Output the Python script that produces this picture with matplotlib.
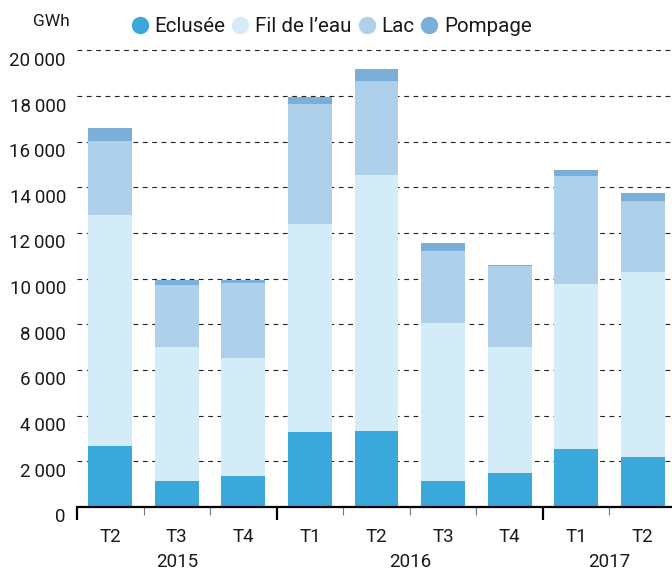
import matplotlib
matplotlib.use("Agg")
import matplotlib.pyplot as plt
from matplotlib.lines import Line2D
from matplotlib.transforms import ScaledTranslation

plt.rcParams['font.family'] = ['Roboto', 'DejaVu Sans']

# Quarterly hydro production, GWh
quarters = ["T2", "T3", "T4", "T1", "T2", "T3", "T4", "T1", "T2"]
years = ["2015", "2016", "2017"]
year_spans = [(0, 2), (3, 6), (7, 8)]

eclusee = [2665, 1160, 1380, 3265, 3310, 1160, 1510, 2520, 2210]
fil_de_leau = [10125, 5840, 5130, 9155, 11220, 6880, 5480, 7230, 8070]
lac = [3230, 2710, 3290, 5220, 4120, 3160, 3550, 4740, 3110]
pompage = [570, 230, 130, 310, 530, 360, 80, 260, 350]

series = [
    ("Eclusée", eclusee, "#3aa8da"),
    ("Fil de l\u2019eau", fil_de_leau, "#d4ebf8"),
    ("Lac", lac, "#aed0ea"),
    ("Pompage", pompage, "#7aafda"),
]

y_ticks = list(range(0, 20001, 2000))

fig = plt.figure(figsize=(6.72, 5.72), dpi=100)
ax = fig.add_axes([77 / 672, 65 / 572, 599 / 672, 456.5 / 572])

x = list(range(len(quarters)))
bottom = [0] * len(x)
for name, vals, color in series:
    ax.bar(x, vals, width=0.66, bottom=bottom, color=color, linewidth=0, zorder=2)
    bottom = [b + v for b, v in zip(bottom, vals)]

ax.set_xlim(-0.5, 8.5)
ax.set_ylim(0, 20000)

# dashed horizontal grid behind the bars
for yv in y_ticks[1:]:
    ax.axhline(yv, color="#222222", lw=0.8, ls=(0, (4.3, 4.1)), zorder=1, clip_on=False)

def fmt(v):
    return f"{v:,}".replace(",", "\u2009")

ax.set_yticks(y_ticks)
ax.set_yticklabels([fmt(v) for v in y_ticks], fontsize=13.5, color="#1a1a1a")
ax.tick_params(axis="y", length=0, pad=8)
for lab in ax.get_yticklabels():
    lab.set_verticalalignment("top")
    lab.set_transform(lab.get_transform() + ScaledTranslation(0, -1 / 72, fig.dpi_scale_trans))

# x axis: thick ticks at year boundaries, thin ticks between quarters
ax.set_xticks([-0.5, 2.5, 6.5])
ax.set_xticklabels([])
ax.tick_params(axis="x", which="major", length=9.5, width=1.6, color="black", direction="out")
ax.set_xticks([0.5, 1.5, 3.5, 4.5, 5.5, 7.5], minor=True)
ax.tick_params(axis="x", which="minor", length=6, width=0.8, color="#777777", direction="out")

for side in ["left", "right", "top"]:
    ax.spines[side].set_visible(False)
ax.spines["bottom"].set_linewidth(1.6)
ax.spines["bottom"].set_color("black")
ax.spines["bottom"].set_zorder(3)

trans = ax.get_xaxis_transform()
for xi, q in zip(x, quarters):
    ax.text(xi, 0, q, transform=trans + ScaledTranslation(0, -30 / 100, fig.dpi_scale_trans),
            ha="center", va="center", fontsize=13.5, color="#1a1a1a")
for yr, (a, b) in zip(years, year_spans):
    ax.text((a + b) / 2, 0, yr, transform=trans + ScaledTranslation(0, -55 / 100, fig.dpi_scale_trans),
            ha="center", va="center", fontsize=13.5, color="#1a1a1a")

fig.text(33 / 672, 1 - 22 / 572, "GWh", ha="left", va="center", fontsize=12.5, color="#1a1a1a")

handles = [Line2D([], [], marker="o", ls="none", markersize=12.5, markerfacecolor=c,
                  markeredgewidth=0) for _, _, c in series]
fig.legend(handles, [s[0] for s in series], loc="center left", ncol=4,
           bbox_to_anchor=(120 / 672, 1 - 27 / 572), frameon=False, fontsize=14.8,
           handlelength=0.9, handletextpad=0.25, columnspacing=0.3, borderpad=0,
           labelcolor="#1a1a1a")

fig.savefig("out.png", dpi=100)
